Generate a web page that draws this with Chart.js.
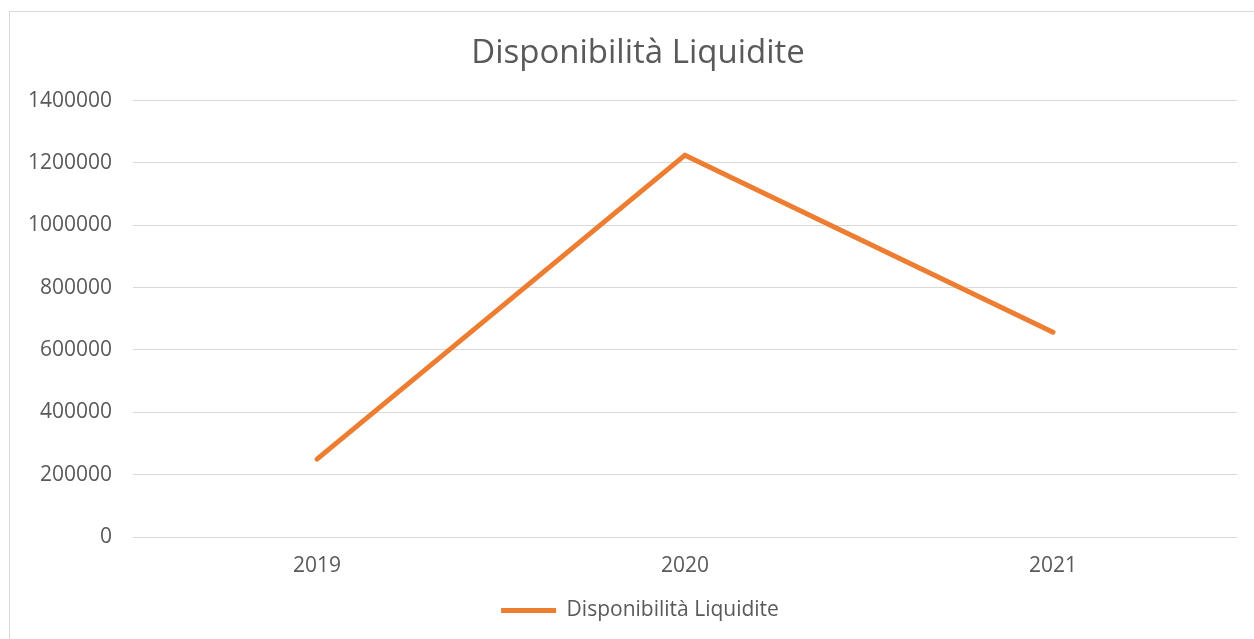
<!DOCTYPE html>
<html>
<head>
<meta charset="utf-8">
<script src="https://cdn.jsdelivr.net/npm/chart.js@4/dist/chart.umd.min.js"></script>
<style>
  html, body { margin: 0; padding: 0; background: #ffffff; }
  #wrap { position: relative; width: 1254px; height: 639px; overflow: hidden; }
  #frame { position: absolute; left: 9px; top: 11px; width: 1400px; height: 800px; border: 1px solid #d9d9d9; pointer-events: none; }
  canvas { position: absolute; left: 0; top: 0; }
</style>
</head>
<body>
<div id="wrap">
  <div id="frame"></div>
  <canvas id="c" width="1254" height="639"></canvas>
</div>
<script>
const chartTitle = "Disponibilità Liquidite";
const categories = ["2019", "2020", "2021"];
const seriesName = "Disponibilità Liquidite";
const seriesValues = [250000, 1225000, 657000];
const yTicks = [0, 200000, 400000, 600000, 800000, 1000000, 1200000, 1400000];

const textColor = "#595959";
const fontFamily = "'Open Sans', 'Noto Sans', sans-serif";

// centre title and legend over the whole frame, like the original
const centreBlocks = {
  id: "centreBlocks",
  beforeDraw(chart) {
    if (chart.legend) { chart.legend.left = 43; }
    if (chart.titleBlock) { chart.titleBlock.left = 39; }
  }
};

new Chart(document.getElementById("c"), {
  type: "line",
  data: {
    labels: categories,
    datasets: [{
      label: seriesName,
      data: seriesValues,
      borderColor: "#ED7D31",
      backgroundColor: "#ED7D31",
      borderWidth: 5,
      borderCapStyle: "round",
      borderJoinStyle: "round",
      pointRadius: 0,
      pointHoverRadius: 0,
      tension: 0,
      fill: false
    }]
  },
  plugins: [centreBlocks],
  options: {
    responsive: false,
    animation: false,
    layout: { padding: { left: 0, right: 17, top: 0, bottom: 8 } },
    plugins: {
      title: {
        display: true,
        text: chartTitle,
        color: textColor,
        font: { family: fontFamily, size: 33, weight: "normal" },
        padding: { top: 34, bottom: 27 }
      },
      legend: {
        display: true,
        position: "bottom",
        labels: {
          color: textColor,
          font: { family: fontFamily, size: 21 },
          boxWidth: 55,
          boxHeight: 5,
          padding: 10,
          generateLabels: (chart) => [{
            text: seriesName,
            fillStyle: "#ED7D31",
            strokeStyle: "#ED7D31",
            fontColor: textColor,
            lineWidth: 0,
            hidden: false,
            datasetIndex: 0
          }]
        }
      },
      tooltip: { enabled: false }
    },
    scales: {
      x: {
        offset: true,
        grid: { display: false, drawTicks: false },
        border: { display: false },
        ticks: { color: textColor, font: { family: fontFamily, size: 21 }, padding: 16 },
        afterFit: (s) => { s.height = 53; }
      },
      y: {
        min: 0,
        max: 1400000,
        afterBuildTicks: (s) => { s.ticks = yTicks.map(v => ({ value: v })); },
        grid: { color: "#d9d9d9", lineWidth: 1, drawTicks: false },
        border: { display: false },
        ticks: {
          color: textColor,
          font: { family: fontFamily, size: 21 },
          padding: 21,
          callback: (v) => String(v)
        },
        afterFit: (s) => { s.width = 133; }
      }
    }
  }
});
</script>
</body>
</html>
